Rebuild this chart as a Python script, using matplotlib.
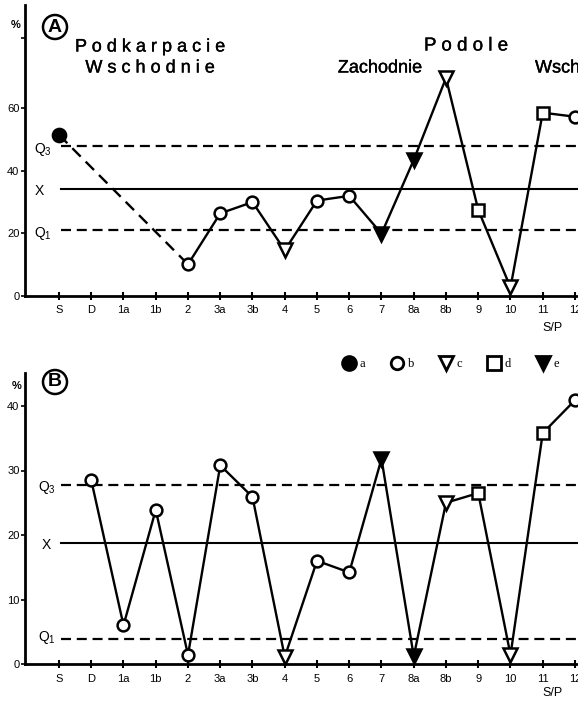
import matplotlib
matplotlib.use("Agg")
import matplotlib.pyplot as plt
from matplotlib.lines import Line2D
import matplotlib.patheffects as pe
import numpy as np

plt.rcParams['font.family'] = ['Liberation Sans', 'DejaVu Sans']
plt.rcParams['mathtext.fontset'] = 'custom'
plt.rcParams['mathtext.rm'] = 'Liberation Sans'

categories = ['S', 'D', '1a', '1b', '2', '3a', '3b', '4', '5', '6', '7',
              '8a', '8b', '9', '10', '11', '12']

# Panel A
a_values = [51.4, None, None, None, 10.0, 26.3, 29.9, 14.5, 30.4, 31.9, 19.8,
            43.4, 69.6, 27.4, 2.6, 58.5, 57.2]
a_types = ['a', None, None, None, 'b', 'b', 'b', 'c', 'b', 'b', 'e',
           'e', 'c', 'd', 'c', 'd', 'b']
a_q3, a_mean, a_q1 = 47.9, 34.1, 20.9
a_yticks = [0, 20, 40, 60]

# Panel B
b_values = [None, 28.5, 6.0, 23.9, 1.4, 30.8, 25.9, 1.1, 16.0, 14.2, 31.8,
            1.2, 25.0, 26.5, 1.4, 35.8, 40.9]
b_types = [None, 'b', 'b', 'b', 'b', 'b', 'b', 'c', 'b', 'b', 'e',
           'e', 'c', 'd', 'c', 'd', 'b']
b_q3, b_mean, b_q1 = 27.7, 18.8, 3.9
b_yticks = [0, 10, 20, 30, 40]

legend_keys = ['a', 'b', 'c', 'd', 'e']

styles = {
    'a': dict(marker='o', ms=9.5, mfc='black', mec='black'),
    'b': dict(marker='o', ms=8.5, mfc='white', mec='black'),
    'c': dict(marker='v', ms=10, mfc='white', mec='black'),
    'd': dict(marker='s', ms=9, mfc='white', mec='black'),
    'e': dict(marker='v', ms=10, mfc='black', mec='black'),
}

W, H = 578, 702
fig = plt.figure(figsize=(W / 100, H / 100), dpi=100)

def fx(px):
    return px / W

def fy(py):
    return 1 - py / H

x0_px, dx_px = 59.0, 32.25
xl = (25 - x0_px) / dx_px
xr = (600 - x0_px) / dx_px


def make_axes(bottom_px, top_px, ymax):
    ax = fig.add_axes([fx(25), fy(bottom_px), (600 - 25) / W, (bottom_px - top_px) / H])
    ax.set_xlim(xl, xr)
    ax.set_ylim(0, ymax)
    for s in ['top', 'right']:
        ax.spines[s].set_visible(False)
    ax.spines['left'].set_linewidth(2.0)
    ax.spines['bottom'].set_linewidth(2.0)
    ax.set_xticks(range(len(categories)))
    ax.set_xticklabels(categories, fontsize=8)
    ax.tick_params(axis='x', direction='inout', length=6, width=1.5, pad=4)
    ax.tick_params(axis='y', direction='out', length=3, width=1.2, pad=1, labelsize=8)
    ax.patch.set_alpha(0)
    return ax


def draw_series(ax, values, types, qs, dashed_first=False):
    idx = [i for i, v in enumerate(values) if v is not None]
    xs = np.array(idx, dtype=float)
    ys = np.array([values[i] for i in idx])
    q3, mean, q1 = qs
    ax.plot([0.05, xr], [q3, q3], color='black', lw=1.6, dashes=(4.5, 2.6), zorder=1)
    ax.plot([0.05, xr], [mean, mean], color='black', lw=1.5, zorder=1)
    ax.plot([0.05, xr], [q1, q1], color='black', lw=1.6, dashes=(4.5, 2.6), zorder=1)
    if dashed_first:
        ax.plot(xs[:2], ys[:2], color='black', lw=1.7, dashes=(5, 3), zorder=2)
        ax.plot(xs[1:], ys[1:], color='black', lw=1.7, zorder=2)
    else:
        ax.plot(xs, ys, color='black', lw=1.7, zorder=2)
    for i in idx:
        st = styles[types[i]]
        ax.plot([i], [values[i]], linestyle='none', marker=st['marker'], ms=st['ms'],
                mfc=st['mfc'], mec=st['mec'], mew=1.8, zorder=3, clip_on=False)


# ---------- Panel A ----------
axA = make_axes(295.6, 5, (295.6 - 5) / 3.127)
axA.set_yticks(a_yticks + [82.5])
axA.set_yticklabels([str(t) for t in a_yticks] + [''])
draw_series(axA, a_values, a_types, (a_q3, a_mean, a_q1), dashed_first=True)

# ---------- Panel B ----------
axB = make_axes(664, 373, (664 - 373) / 6.45)
axB.set_yticks(b_yticks)
axB.set_yticklabels([str(t) for t in b_yticks])
draw_series(axB, b_values, b_types, (b_q3, b_mean, b_q1))

# ---------- texts ----------
def ftext(x, y, s, **kw):
    return fig.text(fx(x), fy(y), s, **kw)

ftext(16, 25, '%', fontsize=8, ha='center', va='center', weight='bold')
ftext(17, 386, '%', fontsize=8, ha='center', va='center', weight='bold')

circ = dict(boxstyle='circle,pad=0.18', fc='white', ec='black', lw=1.8)
ftext(55, 27, 'A', fontsize=14, ha='center', va='center', weight='bold', bbox=circ)
ftext(55, 382, 'B', fontsize=14, ha='center', va='center', weight='bold', bbox=circ)

thick = [pe.withStroke(linewidth=0.25, foreground='black')]
ftext(150, 47, 'P o d k a r p a c i e', fontsize=13, ha='center', va='center', path_effects=thick)
ftext(150, 68, 'W s c h o d n i e', fontsize=13, ha='center', va='center', path_effects=thick)
ftext(466, 46, 'P o d o l e', fontsize=13.5, ha='center', va='center', path_effects=thick)
ftext(380, 68, 'Zachodnie', fontsize=13, ha='center', va='center', path_effects=thick)
ftext(535, 68, 'Wschodnie', fontsize=13, ha='left', va='center', path_effects=thick)

for (x, y, s) in [(43, 150, r'Q$_3$'), (39, 191, 'X'), (43, 233, r'Q$_1$'),
                  (47, 487, r'Q$_3$'), (46, 545, 'X'), (47, 638, r'Q$_1$')]:
    ftext(x, y, s, fontsize=10, ha='center', va='center')

ftext(553, 328, 'S/P', fontsize=9, ha='center', va='center')
ftext(553, 693, 'S/P', fontsize=9, ha='center', va='center')

# ---------- legend ----------
handles = []
for k in legend_keys:
    st = styles[k]
    handles.append(Line2D([], [], linestyle='none', marker=st['marker'],
                          ms=st['ms'] + 0.5, mfc=st['mfc'], mec=st['mec'], mew=2.0, label=k))
fig.legend(handles=handles, loc='center', bbox_to_anchor=(fx(451), fy(364)), ncol=5,
           frameon=False, handletextpad=0.35, columnspacing=2.05, handlelength=1.0,
           prop=dict(family='Liberation Serif', size=9))

fig.savefig('out.png', dpi=100)
